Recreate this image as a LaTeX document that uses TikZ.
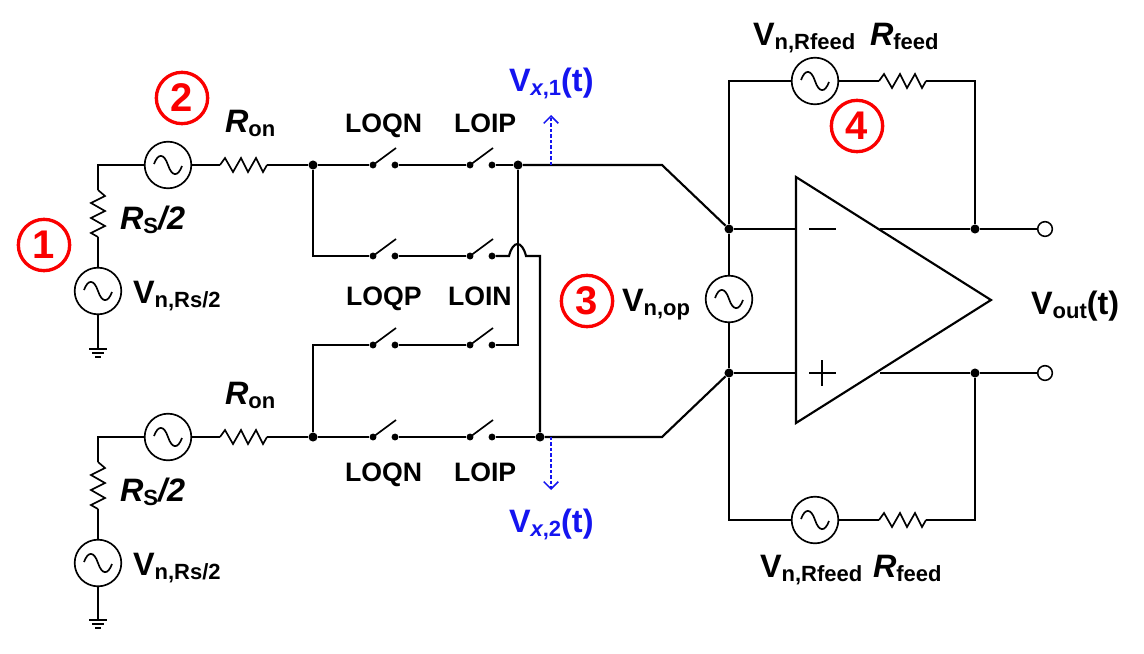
\documentclass[tikz,border=0pt]{standalone}
\usepackage{fontspec}
\setmainfont{Liberation Sans}
\usetikzlibrary{arrows.meta}
\definecolor{myblue}{RGB}{20,20,240}
\definecolor{myred}{RGB}{250,0,0}
\newcommand{\bigf}{\fontsize{24.3}{26}\selectfont\bfseries}
\newcommand{\smalls}{\fontsize{16.5}{18}\selectfont\bfseries}
\newcommand{\subs}[1]{\raisebox{-3.6pt}{\smalls #1}}
\newcommand{\Vn}[1]{{\bigf V}\subs{#1}}
\newcommand{\Rr}[1]{{\bigf\itshape R}\subs{#1}}
\tikzset{
  wire/.style={line width=1.6pt,black,line join=miter},
  thin wire/.style={line width=1.25pt,black,line join=miter},
  srcnode/.style={circle,draw=black,line width=1.25pt,fill=white,minimum size=35pt,inner sep=0pt},
  dot/.style={circle,fill=black,inner sep=0pt,minimum size=6.8pt},
  pin/.style={circle,fill=black,inner sep=0pt,minimum size=5.2pt},
  openpin/.style={circle,draw=black,line width=1.15pt,fill=white,inner sep=0pt,minimum size=11pt},
  lbl/.style={anchor=base west,inner sep=0pt,outer sep=0pt,text=black},
  swlbl/.style={lbl,font=\fontsize{20}{22}\selectfont\bfseries},
  bluelbl/.style={lbl,text=myblue},
  numc/.style={circle,draw=myred,line width=2.5pt,text=myred,inner sep=0pt,minimum size=38.5pt,font=\fontsize{30}{32}\selectfont\bfseries},
  probe/.style={line width=1.3pt,myblue,dash pattern=on 2.6pt off 1.5pt,-{Straight Barb[length=5.5pt,width=11pt,line width=1.1pt]}}
}
\newcommand{\srcat}[3]{%
  \node[srcnode] (#1) at (#2,#3) {};
  \draw[thin wire,shift={(#2,#3)}] (-14,-1) .. controls (-10,-12) and (-4,-12) .. (0,0) .. controls (4,12) and (10,12) .. (14,1);}
\newcommand{\hresat}[3]{%
  \begin{scope}[shift={(#2,#3)}]
  \coordinate (#1-a) at (0,0); \coordinate (#1-b) at (47,0);
  \draw[thin wire] (0,0)--(5,-7)--(13,7)--(21,-7)--(28,7)--(36,-7)--(43,7)--(47,0);
  \end{scope}}
\newcommand{\vresat}[3]{%
  \begin{scope}[shift={(#2,#3)}]
  \coordinate (#1-a) at (0,0); \coordinate (#1-b) at (0,47);
  \draw[thin wire] (0,0)--(7,6)--(-7,13)--(7,21)--(-7,28)--(7,36)--(-7,43)--(0,47);
  \end{scope}}
\newcommand{\swat}[3]{%
  \node[pin] (#1-a) at (#2,#3) {};
  \node[pin] (#1-b) at ({#2+22},#3) {};
  \coordinate (#1-t) at ({#2+23},{#3-17});
  \draw[thin wire] (#1-a.center) -- (#1-t);}
\newcommand{\gndat}[3]{%
  \begin{scope}[shift={(#2,#3)}]
  \coordinate (#1) at (0,0);
  \draw[thin wire] (-9,0)--(9,0) (-6,4)--(6,4) (-3,8)--(3,8);
  \end{scope}}
\begin{document}
\begin{tikzpicture}[x=0.75pt,y=-0.75pt]
\useasboundingbox (0,0) rectangle (1144,653);
\fill[white] (0,0) rectangle (1144,653);

% ---- top source branch
\coordinate (c1) at (98,165);
\srcat{s1}{98}{291}
\srcat{s2}{168}{165}
\vresat{rs1}{98}{190}
\hresat{ron1}{220}{165}
\gndat{g1}{98}{349}
\node[dot] (j1) at (313,165) {};
\node[dot] (j2) at (518,165) {};
\draw[wire] (s2) -- (c1) -- (rs1-a);
\draw[wire] (rs1-b) -- (s1);
\draw[wire] (s1) -- (g1);
\draw[wire] (s2) -- (ron1-a);
\draw[wire] (ron1-b) -- (j1);

% ---- bottom source branch
\coordinate (c2) at (98,437);
\srcat{s3}{98}{563}
\srcat{s4}{168}{437}
\vresat{rs2}{98}{462}
\hresat{ron2}{220}{437}
\gndat{g2}{98}{620}
\node[dot] (j3) at (313,437) {};
\node[dot] (j4) at (540,437) {};
\draw[wire] (s4) -- (c2) -- (rs2-a);
\draw[wire] (rs2-b) -- (s3);
\draw[wire] (s3) -- (g2);
\draw[wire] (s4) -- (ron2-a);
\draw[wire] (ron2-b) -- (j3);

% ---- switches
\swat{a1}{373}{165}\swat{a2}{470}{165}
\swat{b1}{373}{256}\swat{b2}{470}{256}
\swat{c1s}{373}{345}\swat{c2s}{470}{345}
\swat{d1}{373}{437}\swat{d2}{470}{437}
\draw[wire] (j1) -- (a1-a);
\draw[wire] (a1-b) -- (a2-a);
\draw[wire] (a2-b) -- (j2);
\draw[wire] (j3) -- (d1-a);
\draw[wire] (d1-b) -- (d2-a);
\draw[wire] (d2-b) -- (j4);
\coordinate (k1) at (313,256);
\coordinate (k2) at (313,345);
\coordinate (k3) at (518,345);
\coordinate (k4) at (540,256);
\coordinate (h1) at (509,256);
\coordinate (h2) at (526,256);
\draw[wire] (j1) -- (k1) -- (b1-a);
\draw[wire] (b1-b) -- (b2-a);
\draw[wire] (b2-b) -- (h1) .. controls (513,240) and (522,240) .. (h2) -- (k4) -- (j4);
\draw[wire] (j3) -- (k2) -- (c1s-a);
\draw[wire] (c1s-b) -- (c2s-a);
\draw[wire] (c2s-b) -- (k3) -- (j2);

% ---- op-amp input network
\coordinate (opT) at (796,177);
\coordinate (opB) at (796,423);
\coordinate (opO) at (991,300);
\node[dot] (n1) at (729,229) {};
\node[dot] (n2) at (729,373) {};
\node[dot] (n3) at (975,229) {};
\node[dot] (n4) at (975,373) {};
\node[openpin] (o1) at (1045,229) {};
\node[openpin] (o2) at (1045,373) {};
\coordinate (b1k) at (662,165);
\coordinate (b2k) at (662,437);
\draw[wire] (j2) -- (b1k) -- (n1);
\draw[wire] (j4) -- (b2k) -- (n2);
\srcat{s5}{729}{299}
\draw[wire] (n1) -- (s5);
\draw[wire] (s5) -- (n2);
\coordinate (in1) at (796,229);
\coordinate (in2) at (796,373);
\coordinate (ou1) at (880,229);
\coordinate (ou2) at (880,373);
\draw[wire] (n1) -- (in1);
\draw[wire] (n2) -- (in2);
\draw[wire] (ou1) -- (n3) -- (o1);
\draw[wire] (ou2) -- (n4) -- (o2);
\draw[wire] (opT) -- (opO) -- (opB) -- cycle;
\coordinate (m1) at (809,229); \coordinate (m2) at (836,229);
\coordinate (p1) at (809,373); \coordinate (p2) at (836,373);
\coordinate (p3) at (822,360); \coordinate (p4) at (822,386);
\draw[thin wire] (m1) -- (m2);
\draw[thin wire] (p1) -- (p2);
\draw[thin wire] (p3) -- (p4);

% ---- feedback
\srcat{s6}{815}{81}
\hresat{rf1}{879}{81}
\coordinate (f1) at (729,81); \coordinate (f2) at (975,81);
\draw[wire] (n1) -- (f1) -- (s6);
\draw[wire] (s6) -- (rf1-a);
\draw[wire] (rf1-b) -- (f2) -- (n3);
\srcat{s7}{815}{520}
\hresat{rf2}{879}{520}
\coordinate (f3) at (729,520); \coordinate (f4) at (975,520);
\draw[wire] (n2) -- (f3) -- (s7);
\draw[wire] (s7) -- (rf2-a);
\draw[wire] (rf2-b) -- (f4) -- (n4);

% ---- probes
\coordinate (pr1) at (551,165); \coordinate (pr1e) at (551,115);
\coordinate (pr2) at (551,437); \coordinate (pr2e) at (551,490);
\draw[probe] (pr1) -- (pr1e);
\draw[probe] (pr2) -- (pr2e);

% ---- labels
\node[lbl] (t1) at (133,303) {\Vn{n,Rs/2}};
\node[lbl] (t2) at (133,575) {\Vn{n,Rs/2}};
\node[lbl] (t3) at (120,229) {\Rr{S}{\bigf\itshape /2}};
\node[lbl] (t4) at (120,501) {\Rr{S}{\bigf\itshape /2}};
\node[lbl] (t5) at (225,132) {\Rr{on}};
\node[lbl] (t6) at (225,404) {\Rr{on}};
\node[swlbl] (l1) at (345,132) {LOQN};
\node[swlbl] (l2) at (454,132) {LOIP};
\node[swlbl] (l3) at (346,305) {LOQP};
\node[swlbl] (l4) at (448,305) {LOIN};
\node[swlbl] (l5) at (345,481) {LOQN};
\node[swlbl] (l6) at (454,481) {LOIP};
\node[bluelbl] (t7) at (509,91) {{\bigf V}\subs{\itshape x\upshape,1}{\bigf (t)}};
\node[bluelbl] (t8) at (509,532) {{\bigf V}\subs{\itshape x\upshape,2}{\bigf (t)}};
\node[lbl] (t9) at (622,311) {\Vn{n,op}};
\node[lbl] (t10) at (1031,314) {\Vn{out}{\bigf (t)}};
\node[lbl] (t11) at (753,45) {\Vn{n,Rfeed}};
\node[lbl] (t12) at (870,45) {\Rr{feed}};
\node[lbl] (t13) at (760,577) {\Vn{n,Rfeed}};
\node[lbl] (t14) at (873,577) {\Rr{feed}};
\node[numc] (q1) at (44,245) {1};
\node[numc] (q2) at (182,98) {2};
\node[numc] (q3) at (587,301) {3};
\node[numc] (q4) at (857,126) {4};
\end{tikzpicture}
\end{document}
